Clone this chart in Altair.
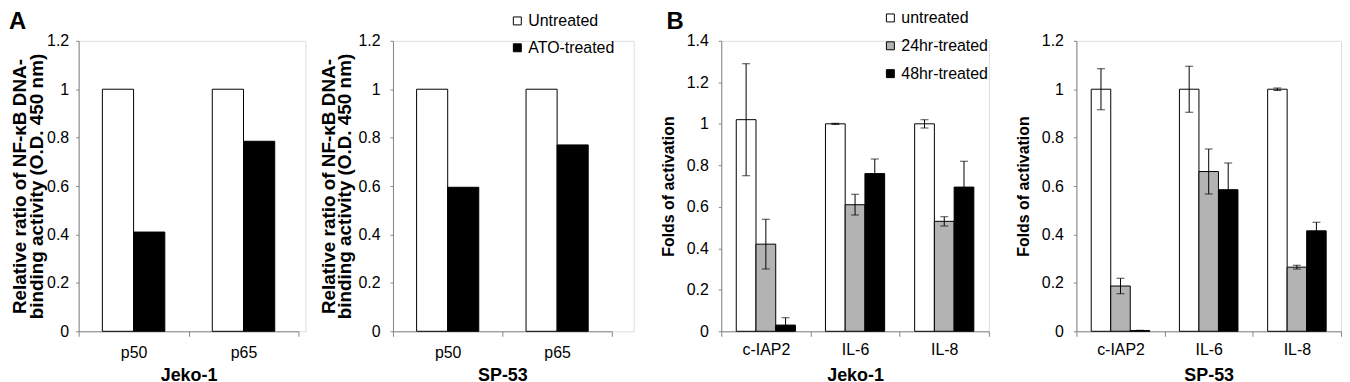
import altair as alt
import pandas as pd

FONT = "Liberation Sans"
GRAY = "#858585"

# ---------------- Panel A data ----------------
a_groups = ["p50", "p65"]
a_series = ["Untreated", "ATO-treated"]
a_colors = ["#ffffff", "#000000"]
a_jeko_untreated = [1.0, 1.0]
a_jeko_ato = [0.41, 0.785]
a_sp53_untreated = [1.0, 1.0]
a_sp53_ato = [0.595, 0.77]
a_ticks = [0, 0.2, 0.4, 0.6, 0.8, 1, 1.2]
a_ytitle = ["Relative ratio of NF-κB DNA-", "binding activity (O.D. 450 nm)"]

# ---------------- Panel B data ----------------
b_groups = ["c-IAP2", "IL-6", "IL-8"]
b_series = ["untreated", "24hr-treated", "48hr-treated"]
b_colors = ["#ffffff", "#b3b3b3", "#000000"]
b_jeko_untreated = [1.02, 1.0, 1.0]
b_jeko_24hr = [0.42, 0.61, 0.53]
b_jeko_48hr = [0.03, 0.76, 0.695]
b_jeko_untreated_err = [0.27, 0.003, 0.02]
b_jeko_24hr_err = [0.12, 0.05, 0.022]
b_jeko_48hr_err = [0.035, 0.07, 0.125]
b_sp53_untreated = [1.0, 1.0, 1.0]
b_sp53_24hr = [0.187, 0.66, 0.265]
b_sp53_48hr = [0.003, 0.585, 0.415]
b_sp53_untreated_err = [0.085, 0.095, 0.005]
b_sp53_24hr_err = [0.032, 0.093, 0.008]
b_sp53_48hr_err = [0.001, 0.11, 0.035]
b_jeko_ticks = [0, 0.2, 0.4, 0.6, 0.8, 1, 1.2, 1.4]
b_sp53_ticks = [0, 0.2, 0.4, 0.6, 0.8, 1, 1.2]
b_ytitle = "Folds of activation"


def table(groups, series, values, errs=None):
    rows = []
    for si, s in enumerate(series):
        for gi, g in enumerate(groups):
            v = values[si][gi]
            e = errs[si][gi] if errs else 0.0
            rows.append({"group": g, "series": s, "value": v, "lo": v - e, "hi": v + e})
    return pd.DataFrame(rows)


def panel(df, groups, series, colors, ymax, ticks, plot_w, cell_w, ytitle,
          ytitle_size, ytitle_lh, ytitle_pad, y_label_pad, xtitle, x_label_pad, x_title_pad,
          legend_xy=None, letter=None, errors=False):
    x = alt.X("group:N", sort=groups, title=xtitle,
              scale=alt.Scale(domain=groups, range=[0, plot_w], paddingInner=0, paddingOuter=0),
              axis=alt.Axis(labelAngle=0, tickBand="extent", tickSize=5, tickColor=GRAY,
                            domainColor=GRAY, labelFont=FONT, labelFontSize=16,
                            labelColor="black", labelPadding=x_label_pad,
                            titleFont=FONT, titleFontSize=18, titleFontWeight="bold",
                            titleColor="black", titlePadding=x_title_pad))
    xo = alt.XOffset("series:N", sort=series,
                     scale=alt.Scale(domain=series, paddingOuter=0.76, paddingInner=0))
    y = alt.Y("value:Q", scale=alt.Scale(domain=[0, ymax], nice=False),
              axis=alt.Axis(values=ticks, format="~g", grid=False, tickSize=3,
                            tickColor=GRAY, domainColor=GRAY, labelFont=FONT,
                            labelFontSize=16, labelColor="black", labelPadding=y_label_pad,
                            title=ytitle, titleFont=FONT, titleFontSize=ytitle_size,
                            titleLineHeight=ytitle_lh, titleFontWeight="bold",
                            titleColor="black", titlePadding=ytitle_pad))
    if legend_xy is not None:
        leg = alt.Legend(orient="none", legendX=legend_xy[0], legendY=legend_xy[1],
                         title=None, symbolType="square", symbolSize=64,
                         symbolStrokeColor="black", symbolStrokeWidth=1,
                         labelFont=FONT, labelFontSize=16, labelColor="black",
                         rowPadding=legend_xy[2], labelOffset=3, padding=0)
    else:
        leg = None
    fill = alt.Fill("series:N", sort=series,
                    scale=alt.Scale(domain=series, range=colors), legend=leg)
    bars = alt.Chart(df).mark_bar(stroke="black", strokeWidth=1).encode(
        x=x, xOffset=xo, y=y, fill=fill)
    layers = [bars]
    if errors:
        rule = alt.Chart(df).mark_rule(color="black", strokeWidth=1, clip=True).encode(
            x=x, xOffset=xo, y="lo:Q", y2="hi:Q")
        cap_hi = alt.Chart(df).mark_tick(color="black", thickness=1, size=8, clip=True).encode(
            x=x, xOffset=xo, y="hi:Q")
        cap_lo = alt.Chart(df).mark_tick(color="black", thickness=1, size=8, clip=True).encode(
            x=x, xOffset=xo, y="lo:Q")
        layers += [rule, cap_hi, cap_lo]
    if letter is not None:
        txt = alt.Chart(pd.DataFrame({"label": [letter[0]]})).mark_text(
            align="left", baseline="top", fontSize=24, fontWeight="bold", font=FONT,
            color="black").encode(text="label:N", x=alt.value(letter[1]), y=alt.value(-31))
        layers.append(txt)
    return alt.layer(*layers).properties(width=cell_w, height=292)


df1 = table(a_groups, a_series, [a_jeko_untreated, a_jeko_ato])
df2 = table(a_groups, a_series, [a_sp53_untreated, a_sp53_ato])
df3 = table(b_groups, b_series, [b_jeko_untreated, b_jeko_24hr, b_jeko_48hr],
            [b_jeko_untreated_err, b_jeko_24hr_err, b_jeko_48hr_err])
df4 = table(b_groups, b_series, [b_sp53_untreated, b_sp53_24hr, b_sp53_48hr],
            [b_sp53_untreated_err, b_sp53_24hr_err, b_sp53_48hr_err])

p1 = panel(df1, a_groups, a_series, a_colors, 1.2, a_ticks, 221, 228, a_ytitle,
           19, 17, 0, 7, "Jeko-1", 8, 6, letter=("A", -70))
p2 = panel(df2, a_groups, a_series, a_colors, 1.2, a_ticks, 220, 242, a_ytitle,
           19, 17, 3, 10, "SP-53", 8, 6, legend_xy=(117, -28, 11))
p3 = panel(df3, b_groups, b_series, b_colors, 1.4, b_jeko_ticks, 269, 269, b_ytitle,
           16, 16, 10, 10, "Jeko-1", 5, 9, legend_xy=(162, -31, 12), letter=("B", -55), errors=True)
p4 = panel(df4, b_groups, b_series, b_colors, 1.2, b_sp53_ticks, 266, 266, b_ytitle,
           16, 16, 10, 10, "SP-53", 5, 9, errors=True)

chart = alt.hconcat(p1, p2, p3, p4, spacing=88, bounds="flush").resolve_scale(
    x="independent", y="independent", fill="independent", xOffset="independent"
).properties(padding=0).configure_view(stroke=None).configure(font=FONT)

chart.save("out.html", embed_options={"renderer": "svg", "actions": False})
